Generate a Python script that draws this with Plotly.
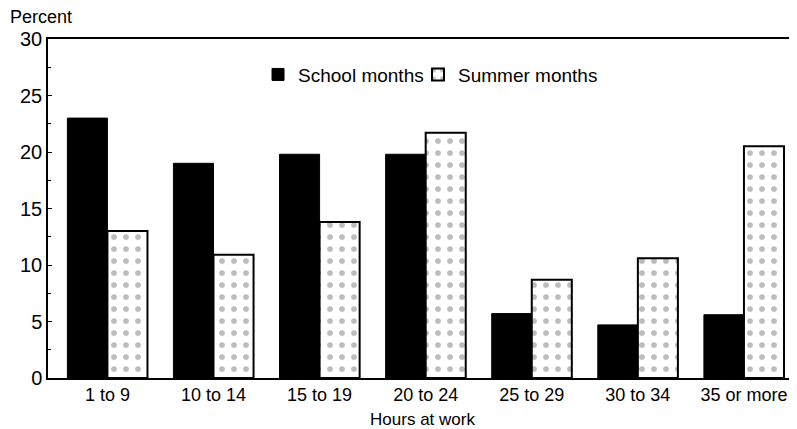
import plotly.graph_objects as go

categories = ["1 to 9", "10 to 14", "15 to 19", "20 to 24", "25 to 29", "30 to 34", "35 or more"]
school_months = [23.0, 19.0, 19.8, 19.8, 5.7, 4.7, 5.6]
summer_months = [13.0, 10.9, 13.8, 21.7, 8.7, 10.6, 20.5]
y_ticks = [0, 5, 10, 15, 20, 25, 30]

font_family = "Liberation Sans, Arial, sans-serif"

fig = go.Figure()
fig.add_trace(go.Bar(
    x=categories, y=school_months, name="School months", legend="legend",
    marker=dict(color="black", line=dict(color="black", width=1)),
))
fig.add_trace(go.Bar(
    x=categories, y=summer_months, name="Summer months", legend="legend2",
    marker=dict(color="white", line=dict(color="black", width=2),
                pattern=dict(shape=".", fgcolor="#7a7a7a", bgcolor="white",
                             size=12, solidity=0.18)),
))

legend_common = dict(orientation="h", y=0.895, yanchor="middle", xanchor="left",
                     font=dict(size=19, family=font_family), bgcolor="rgba(0,0,0,0)",
                     itemwidth=30)

fig.update_layout(
    width=789, height=421,
    margin=dict(l=40, r=0, t=31, b=51, autoexpand=False),
    paper_bgcolor="white", plot_bgcolor="white",
    barmode="group", bargap=0.245, bargroupgap=0,
    font=dict(family=font_family, color="black"),
    showlegend=True,
    legend=dict(x=0.2804, **legend_common),
    legend2=dict(x=0.494, **legend_common),
    xaxis=dict(
        range=[-0.56, 6.5], showline=True, linecolor="black", linewidth=1.5, mirror=True,
        ticks="", tickfont=dict(size=18), showgrid=False, automargin=False,
        title=dict(text="Hours at work", font=dict(size=17), standoff=9),
    ),
    yaxis=dict(
        range=[0, 30], tickvals=y_ticks, showline=True, linecolor="black", linewidth=1.5,
        ticks="inside", ticklen=4, tickcolor="black", tickfont=dict(size=20),
        showgrid=False, zeroline=False, automargin=False,
        minor=dict(dtick=2.5, ticks="inside", ticklen=3, tickcolor="black", showgrid=False),
    ),
    annotations=[dict(text="Percent", xref="paper", yref="paper", x=-0.053, y=1.03,
                      xanchor="left", yanchor="bottom", showarrow=False,
                      font=dict(size=18, family=font_family))],
)

fig.write_html("out.html")
